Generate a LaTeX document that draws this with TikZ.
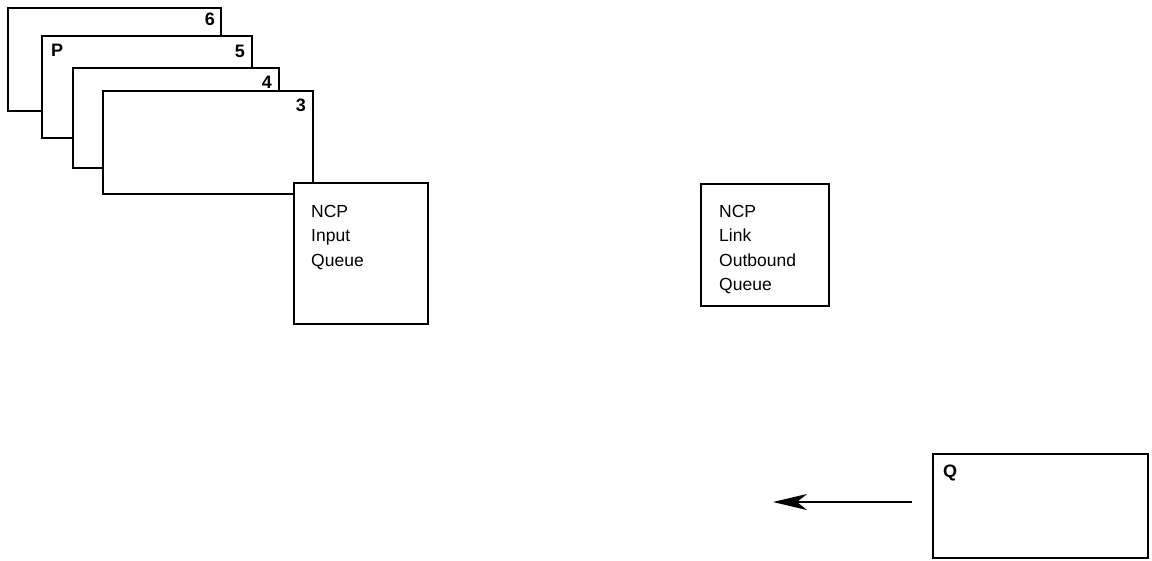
\documentclass[tikz,border=0pt]{standalone}
\usepackage{fontspec}
\setmainfont{Liberation Sans}
\usetikzlibrary{arrows.meta}
\begin{document}
\begin{tikzpicture}[x=1pt,y=-1pt,
  card/.style={draw=black, fill=white, line width=2.2pt, rectangle, inner sep=0pt, anchor=north west},
  num/.style={font=\fontsize{18}{20}\selectfont\bfseries, inner sep=0pt, anchor=base east},
  lbl/.style={font=\fontsize{17.5}{24.5}\selectfont, inner sep=0pt, anchor=north west, align=left},
  arr/.style={line width=2.2pt, -{Stealth[length=34pt,width=16pt,inset=10pt]}}]
\useasboundingbox (0,0) rectangle (1152,560);
% stacked cards, back to front
\node[card, minimum width=213pt, minimum height=103pt] (c6) at (7,7) {};
\node[num] (n6) at (215,25) {6};
\node[card, minimum width=210pt, minimum height=102pt] (c5) at (41,35) {};
\node[num, anchor=base west] (p) at (51,56) {P};
\node[num] (n5) at (245,57) {5};
\node[card, minimum width=206pt, minimum height=100pt] (c4) at (72,67) {};
\node[num] (n4) at (272,88) {4};
\node[card, minimum width=210pt, minimum height=103pt] (c3) at (102,90) {};
\node[num] (n3) at (306,111) {3};
% NCP input queue
\node[card, minimum width=134pt, minimum height=141pt] (inq) at (293,182) {};
\node[lbl] (inqt) at (311,205) {NCP\\Input\\Queue};
% NCP link outbound queue
\node[card, minimum width=128pt, minimum height=122pt] (outq) at (700,183) {};
\node[lbl] (outqt) at (719,205) {NCP\\Link\\Outbound\\Queue};
% Q box
\node[card, minimum width=215pt, minimum height=104pt] (q) at (932,453) {};
\node[num, anchor=base west] (qt) at (943,477) {Q};
% arrow
\coordinate (as) at (912,502);
\coordinate (ae) at (773,502);
\draw[arr] (as) -- (ae);
\end{tikzpicture}
\end{document}
